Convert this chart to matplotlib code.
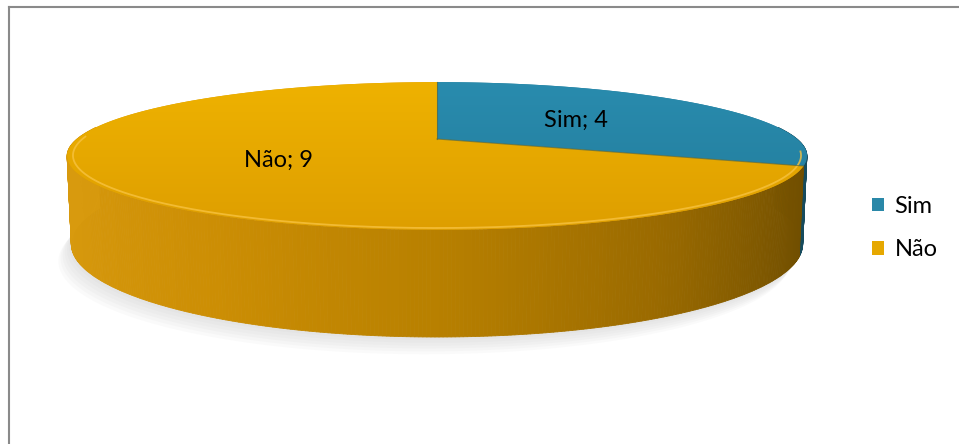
import numpy as np
import matplotlib.pyplot as plt
from matplotlib.colors import LinearSegmentedColormap
from matplotlib.collections import PolyCollection
from matplotlib.lines import Line2D
from matplotlib.patches import Polygon, Patch

categories = ["Sim", "Não"]
values = [4, 9]
top_colors = [("#2a8db0", "#217a98"), ("#f0b400", "#dc9c00")]
legend_colors = ["#2a88a8", "#e6a800"]

# perspective camera for the 3D disc
elev = np.radians(11.2)
dist = 4.27
height = 0.24
scale_px = 360.0
center_px = (437, 139)
W, H = 959, 444


def project(theta, z, r=1.0):
    x = r * np.sin(theta)
    y = r * np.cos(theta)
    v = y * np.sin(elev) + z * np.cos(elev)
    d = y * np.cos(elev) - z * np.sin(elev)
    k = dist / (dist + d)
    return x * k, v * k


fig = plt.figure(figsize=(W / 100, H / 100), dpi=100)
ax = fig.add_axes([0, 0, 1, 1])
ax.axis("off")

fracs = np.array(values, dtype=float) / sum(values)
bounds = np.concatenate([[0], np.cumsum(fracs)]) * 2 * np.pi

# soft shadow under the disc
t_all = np.linspace(0, 2 * np.pi, 400)
bx, by = project(t_all, -height)
for i in range(1, 7):
    ax.add_patch(Polygon(np.column_stack([bx - 0.006 * i, by - 0.008 * i]),
                         closed=True, fc="#808080", ec="none", alpha=0.035, zorder=1))

# side wall as thin quads, shaded from left (light) to right (dark)
side_shade = LinearSegmentedColormap.from_list(
    "side", ["#d89a0e", "#cc8e04", "#b88000", "#9a6a00", "#6a4a00"])
sim_shade = LinearSegmentedColormap.from_list("simside", ["#2a7f9c", "#1d5f75", "#164a5c"])
t_side = np.linspace(np.radians(80), np.radians(280), 400)
quads, cols = [], []
for a, b in zip(t_side[:-1], t_side[1:]):
    x0, y0 = project(a, 0)
    x1, y1 = project(b, 0)
    x2, y2 = project(b, -height)
    x3, y3 = project(a, -height)
    quads.append([(x0, y0), (x1, y1), (x2, y2), (x3, y3)])
    pos = (1 - np.sin((a + b) / 2)) / 2  # 0 at right, 1 at left
    in_sim = (a + b) / 2 < bounds[1]
    cols.append(sim_shade(1 - pos) if in_sim else side_shade(1 - pos))
ax.add_collection(PolyCollection(quads, facecolors=cols, edgecolors=cols,
                                 linewidths=0.6, zorder=2))

# top faces with a soft vertical gradient
for i, cat in enumerate(categories):
    t = np.linspace(bounds[i], bounds[i + 1], 200)
    px, py = project(t, 0)
    poly = Polygon(np.column_stack([np.r_[0, px], np.r_[0, py]]),
                   closed=True, fc=top_colors[i][1], ec="none", zorder=3)
    ax.add_patch(poly)
    cmap = LinearSegmentedColormap.from_list(cat, [top_colors[i][1], top_colors[i][0]])
    img = ax.imshow(np.linspace(0, 1, 256).reshape(-1, 1), cmap=cmap,
                    extent=[-1.1, 1.1, -0.3, 0.2], aspect="auto",
                    origin="lower", zorder=4)
    img.set_clip_path(poly)

# bevel highlight on the front edge and dark seam between slices
t_edge = np.linspace(np.radians(100), np.radians(272), 200)
ex, ey = project(t_edge, 0, r=0.985)
ax.plot(ex, ey, color="#f7c240", lw=1.3, alpha=0.8, zorder=5)
for b in bounds[:2]:
    lx, ly = project(np.array([b, b]), 0, r=np.array([0.0, 1.0]))
    ax.plot(lx, ly, color="#5a6a40", lw=0.8, alpha=0.7, zorder=5)

# data labels
for i, cat in enumerate(categories):
    mid = (bounds[i] + bounds[i + 1]) / 2
    lx, ly = project(mid, 0, r=0.5)
    ax.text(lx, ly, f"{cat}; {values[i]}", ha="center", va="center",
            fontsize=17, family="Lato", color="black", zorder=6)

# imshow resets the view, so fix limits last
ax.set_xlim(-center_px[0] / scale_px, (W - center_px[0]) / scale_px)
ax.set_ylim(-(H - center_px[1]) / scale_px, center_px[1] / scale_px)

handles = [Patch(facecolor=c, edgecolor="none", label=cat)
           for c, cat in zip(legend_colors, categories)]
fig.legend(handles=handles, loc="center left", frameon=False,
           bbox_to_anchor=(872 / W, 1 - 228 / H), bbox_transform=fig.transFigure,
           prop={"family": "Lato", "size": 17}, handlelength=0.5, handleheight=0.5,
           handletextpad=0.45, labelspacing=0.95, borderpad=0, borderaxespad=0)

# chart frame (only top and left visible in crop)
fig.add_artist(Line2D([9 / W, 1], [1 - 7 / H, 1 - 7 / H], transform=fig.transFigure,
                      color="#8a8a8a", lw=1.5))
fig.add_artist(Line2D([9 / W, 9 / W], [0, 1 - 7 / H], transform=fig.transFigure,
                      color="#8a8a8a", lw=1.5))

fig.savefig("out.png", dpi=100)
